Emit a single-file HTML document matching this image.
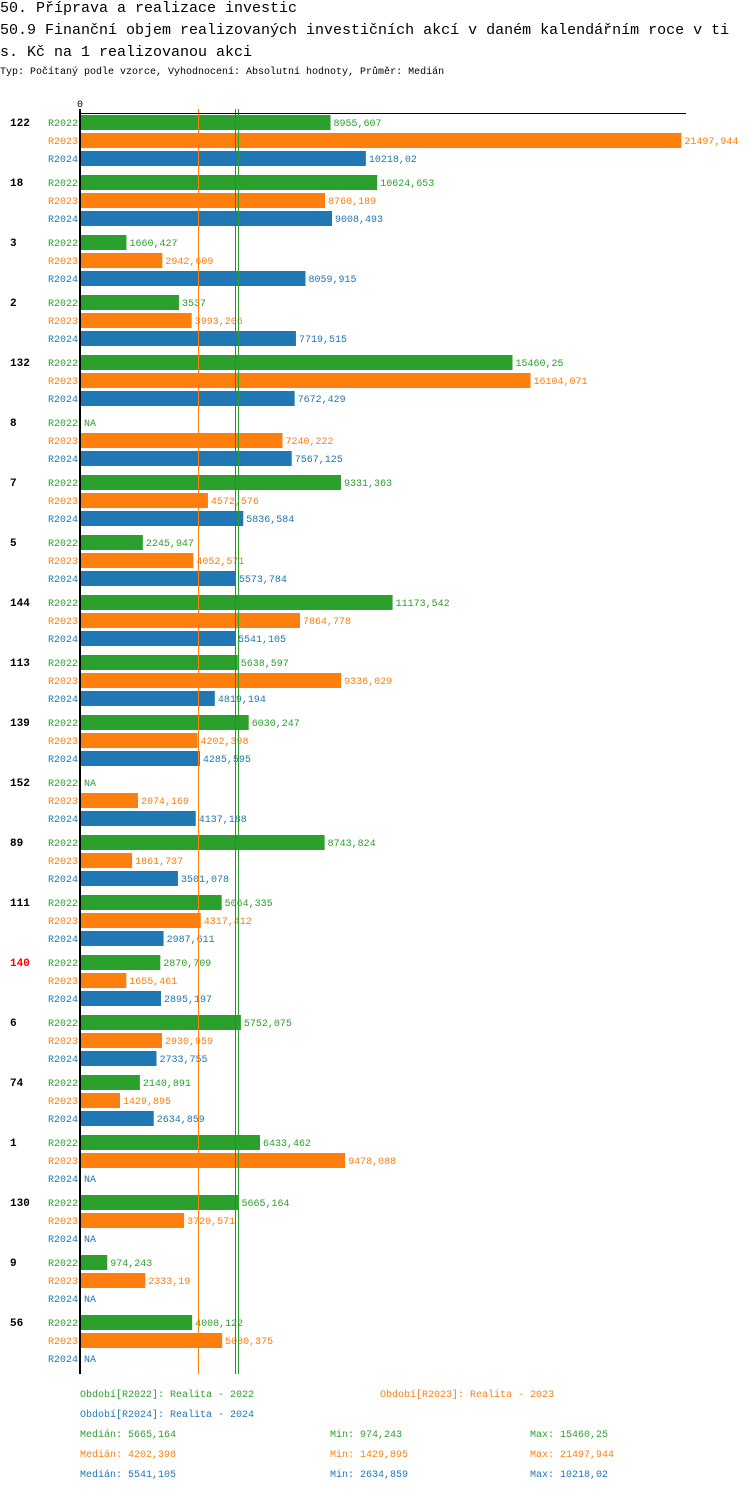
<!DOCTYPE html>
<html><head><meta charset="utf-8">
<style>
body{margin:0;background:#fff;width:750px;height:1494px;overflow:hidden;font-family:"Liberation Mono",monospace;}
.t{position:absolute;left:0;font-size:15px;color:#000;white-space:nowrap;}
.lg{position:absolute;font-size:10px;white-space:nowrap;}
</style></head><body>
<div class="t" style="top:0">50. Příprava a realizace investic</div>
<div class="t" style="top:22px">50.9 Finanční objem realizovaných investičních akcí v daném kalendářním roce v ti</div>
<div class="t" style="top:44px">s. Kč na 1 realizovanou akci</div>
<div class="lg" style="top:67px;left:0;color:#000">Typ: Počítaný podle vzorce, Vyhodnocení: Absolutní hodnoty, Průměr: Medián</div>
<svg id="chart" width="750" height="1494" style="position:absolute;left:0;top:0"></svg>
<div class="lg" style="top:1390px;left:80px;color:#2ca02c">Období[R2022]: Realita - 2022</div>
<div class="lg" style="top:1390px;left:380px;color:#ff7f0e">Období[R2023]: Realita - 2023</div>
<div class="lg" style="top:1410px;left:80px;color:#1f77b4">Období[R2024]: Realita - 2024</div>
<div class="lg" style="top:1430px;left:80px;color:#2ca02c">Medián: 5665,164</div>
<div class="lg" style="top:1430px;left:330px;color:#2ca02c">Min: 974,243</div>
<div class="lg" style="top:1430px;left:530px;color:#2ca02c">Max: 15460,25</div>
<div class="lg" style="top:1450px;left:80px;color:#ff7f0e">Medián: 4202,398</div>
<div class="lg" style="top:1450px;left:330px;color:#ff7f0e">Min: 1429,895</div>
<div class="lg" style="top:1450px;left:530px;color:#ff7f0e">Max: 21497,944</div>
<div class="lg" style="top:1470px;left:80px;color:#1f77b4">Medián: 5541,105</div>
<div class="lg" style="top:1470px;left:330px;color:#1f77b4">Min: 2634,859</div>
<div class="lg" style="top:1470px;left:530px;color:#1f77b4">Max: 10218,02</div>
<script>
const categories=["122","18","3","2","132","8","7","5","144","113","139","152","89","111","140","6","74","1","130","9","56"];
const highlighted=["140"];
const seriesNames=["R2022","R2023","R2024"];
const r2022=[8955.607,10624.653,1660.427,3537,15460.25,null,9331.363,2245.947,11173.542,5638.597,6030.247,null,8743.824,5064.335,2870.709,5752.075,2140.891,6433.462,5665.164,974.243,4008.122];
const r2023=[21497.944,8760.189,2942.609,3993.206,16104.071,7240.222,4572.576,4052.571,7864.778,9336.029,4202.398,2074.169,1861.737,4317.412,1655.461,2930.959,1429.895,9478.088,3720.571,2333.19,5080.375];
const r2024=[10218.02,9008.493,8059.915,7719.515,7672.429,7567.125,5836.584,5573.784,5541.105,4819.194,4285.595,4137.188,3501.078,2987.611,2895.197,2733.755,2634.859,null,null,null,null];
const medians=[5665.164,4202.398,5541.105];
const colors=["#2ca02c","#ff7f0e","#1f77b4"];
const svg=document.getElementById('chart');
const NS="http://www.w3.org/2000/svg";
const xs=v=>80+v*0.027975;
const rowY=(g,s)=>122+g*60+s*18;
function mk(t,a){const e=document.createElementNS(NS,t);for(const k in a)e.setAttribute(k,a[k]);svg.appendChild(e);return e;}
const fmt=v=>String(v).replace('.',',');
const series=[r2022,r2023,r2024];
categories.forEach((c,g)=>{
  const lab=mk('text',{x:10,y:rowY(g,0)+4,'font-size':11,'font-weight':'bold','font-family':'Liberation Mono,monospace',fill:highlighted.includes(c)?'#ff0000':'#000'});
  lab.textContent=c;
  
  
  series.forEach((arr,s)=>{
    const y=rowY(g,s);
    const sl=mk('text',{x:78,y:y+4,'font-size':10,'text-anchor':'end','font-family':'Liberation Mono,monospace',fill:colors[s]});
    sl.textContent=seriesNames[s];
    
    
    const v=arr[g];
    if(v==null){
      const na=mk('text',{x:84,y:y+4,'font-size':10,'font-family':'Liberation Mono,monospace',fill:colors[s]});
      na.textContent='NA';
      
      
      return;
    }
    const b=mk('rect',{x:81,y:y-7,width:xs(v)-81,height:15,fill:colors[s]});
    
    
    const vl=mk('text',{x:xs(v)+3,y:y+4,'font-size':10,'font-family':'Liberation Mono,monospace',fill:colors[s]});
    vl.textContent=fmt(v);
    
    
  });
});
medians.forEach((m,s)=>{
  const l=mk('line',{x1:Math.round(xs(m))+0.5,x2:Math.round(xs(m))+0.5,y1:109,y2:1374,stroke:colors[s],'stroke-width':1});
  
  
});
const yAxisLine=mk('line',{x1:80,x2:80,y1:109,y2:1374,stroke:'#000','stroke-width':2});


const xAxisLine=mk('line',{x1:80,x2:686,y1:113.5,y2:113.5,stroke:'#000','stroke-width':1});


const zeroTick=mk('text',{x:80,y:107,'font-size':10,'text-anchor':'middle','font-family':'Liberation Mono,monospace',fill:'#000'});
zeroTick.textContent='0';


</script>
</body></html>
